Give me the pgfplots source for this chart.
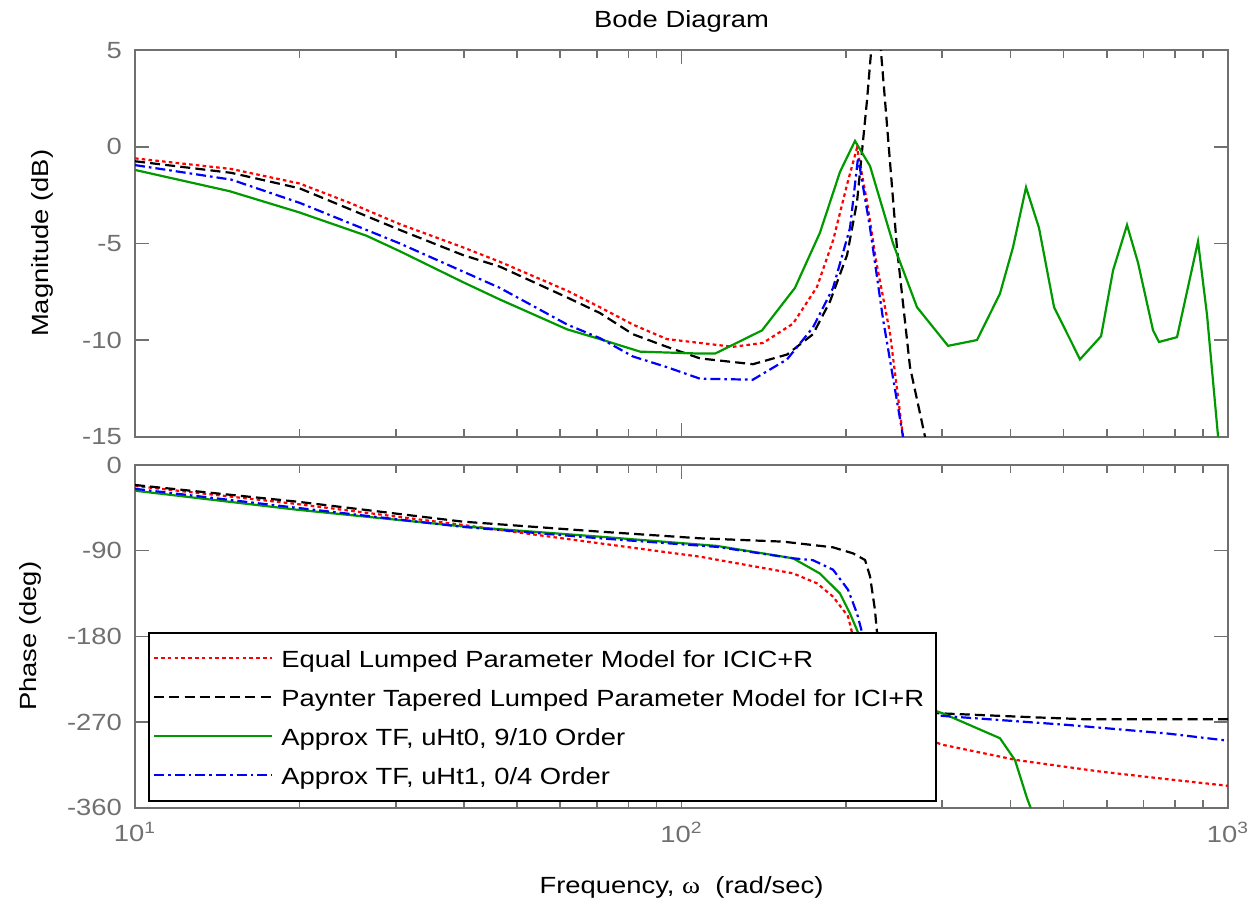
\documentclass[border=0pt]{standalone}
\usepackage{pgfplots}
\pgfplotsset{compat=1.18}
\usepackage{fontspec}
\setmainfont{Liberation Sans}[FakeStretch=1.17]
\newfontfamily\symfont{Liberation Serif}[FakeStretch=1.17]
\definecolor{axgray}{RGB}{112,112,112}
\definecolor{mgreen}{RGB}{0,153,0}
\pgfplotsset{
  bodeax/.style={
    scale only axis, width=546.5pt, xmin=10, xmax=1000,
    axis line style={axgray, line width=1pt},
    every tick/.style={axgray, line width=0.8pt},
    major tick length=7pt, minor tick length=4pt,
    tick label style={text=axgray, font=\fontsize{11.7}{14}\selectfont},
    label style={font=\fontsize{11.7}{14}\selectfont, text=black},
    title style={font=\fontsize{11.7}{14}\selectfont, text=black},
    xtick={10,100,1000},
    yticklabel style={xshift=-2.5pt},
    every axis plot/.append style={line width=1.1pt},
  },
  redst/.style={red, dash pattern=on 1.8pt off 1.6pt},
  blkst/.style={black, dash pattern=on 5pt off 2.6pt},
  grnst/.style={mgreen, solid},
  blust/.style={blue, dash pattern=on 5pt off 2pt on 1.3pt off 2pt},
}
\begin{document}
\fontsize{11.7}{14}\selectfont
\begin{tikzpicture}
\path[use as bounding box] (0pt,0pt) rectangle (628pt,455.5pt);
% ---------------- Magnitude ----------------
\begin{semilogxaxis}[bodeax,
  at={(67.5pt,237.15pt)}, anchor=south west, height=193.3pt,
  ymin=-15, ymax=5,
  ytick={-15,-10,-5,0,5}, yticklabels={-15,-10,-5,0,5},
  xticklabels={},
  title={Bode Diagram},
  title style={at={(axis description cs:0.5,1)}, anchor=south, yshift=-1pt},
  ylabel={Magnitude (dB)},
  ylabel style={at={(axis description cs:-0.0845,0.5)}, anchor=center},
]
\addplot[redst] coordinates {(10,-0.6)(15,-1.15)(20,-1.9)(24.7,-2.9)(30.5,-4.0)(39.8,-5.2)(46.5,-5.95)(61.8,-7.45)(70.9,-8.3)(81.5,-9.2)(94,-9.95)(108.1,-10.15)(124.2,-10.35)(141,-10.15)(160,-9.15)(177,-7.25)(189.4,-4.85)(200.9,-1.95)(209.5,-0.05)(218.5,-2.85)(227,-5.9)(240.7,-9.65)(254.3,-15)(262,-18)};
\addplot[blkst] coordinates {(10,-0.75)(15,-1.35)(20,-2.15)(30.5,-4.3)(39.8,-5.6)(46.5,-6.2)(61.8,-7.8)(70.9,-8.6)(81.5,-9.7)(94,-10.35)(108.1,-10.95)(135.1,-11.25)(156,-10.75)(174,-9.7)(187,-8.0)(200.9,-5.6)(209.5,-2.85)(218.5,2.4)(227,8)(235.7,2.4)(248,-5.3)(261.9,-11.4)(279,-15)(290,-18)};
\addplot[grnst] coordinates {(10,-1.2)(14.9,-2.3)(20,-3.4)(26.5,-4.6)(30.5,-5.4)(39.8,-7.0)(46.5,-7.9)(61.8,-9.45)(70.9,-9.95)(84,-10.6)(108.1,-10.7)(115.2,-10.7)(140.4,-9.5)(161.3,-7.3)(179.2,-4.45)(195,-1.3)(207.7,0.3)(221.3,-1.0)(243.8,-5.0)(269.7,-8.3)(307.4,-10.3)(347.3,-10.0)(382.6,-7.6)(404.2,-5.2)(427,-2.1)(451,-4.2)(480.5,-8.3)(536,-11.0)(585.8,-9.8)(616.1,-6.4)(653.5,-4.05)(684.5,-6.0)(729.2,-9.5)(747.8,-10.1)(806.7,-9.85)(881.3,-4.9)(915.4,-8.7)(959,-15)(980,-18)};
\addplot[blust] coordinates {(10,-0.95)(15,-1.7)(20,-2.9)(30.5,-5.0)(39.8,-6.45)(46.5,-7.3)(61.8,-9.2)(70.9,-9.9)(81.5,-10.85)(94,-11.4)(108.1,-12.0)(135.1,-12.05)(156,-11.0)(174,-9.35)(189.4,-7.3)(203.4,-4.2)(210.4,-0.55)(221.3,-4.2)(233.7,-8.9)(254.3,-15)(265,-18)};
\end{semilogxaxis}
% ---------------- Phase ----------------
\begin{semilogxaxis}[bodeax,
  at={(67.5pt,51.65pt)}, anchor=south west, height=171.35pt,
  ymin=-360, ymax=0,
  ytick={-360,-270,-180,-90,0}, yticklabels={-360,-270,-180,-90,0},
  xticklabels={10\textsuperscript{1},10\textsuperscript{2},10\textsuperscript{3}},
  xticklabel style={yshift=-3pt},
  ylabel={Phase (deg)},
  ylabel style={at={(axis description cs:-0.0955,0.5)}, anchor=center},
  xlabel={Frequency, {\symfont ω}\ \ (rad/sec)},
  xlabel style={at={(axis description cs:0.5,-0.232)}, anchor=center},
  legend cell align=left,
  legend image code/.code={\draw[#1] (0pt,0pt) -- (43pt,0pt); \path (0pt,0pt) -- (59pt,0pt);},
  legend style={at={(rel axis cs:0.012,0.017)}, anchor=south west,
    draw=black, line width=1pt, fill=white, inner xsep=2pt, inner ysep=3pt,
    font=\fontsize{11.7}{14}\selectfont, text=black, row sep=0pt,
    nodes={inner sep=4pt, text height=10.5pt, text depth=1pt}},
]
\addplot[redst] coordinates {(10,-22)(19.8,-41)(39.8,-63)(70.9,-82.3)(108.1,-96.3)(160,-113.8)(177,-124.3)(189.4,-138.3)(201.7,-159)(205.1,-176)(215,-215)(225,-250)(240,-275)(301,-294)(411,-310)(583,-322)(773,-330)(1000,-337)};
\addlegendentry{Equal Lumped Parameter Model for ICIC+R}
\addplot[blkst] coordinates {(10,-21)(19.8,-38.5)(39.8,-59.5)(70.9,-70)(108.1,-77)(153.4,-80.5)(189.4,-86.5)(206,-92.8)(216.7,-99.8)(221.3,-117)(225.9,-152)(227.9,-176)(232,-240)(245,-258)(301,-261)(440,-265)(543,-267)(1000,-267)};
\addlegendentry{Paynter Tapered Lumped Parameter Model for ICI+R}
\addplot[grnst] coordinates {(10,-27)(19.8,-47)(39.8,-64.5)(70.9,-75.3)(116.1,-85)(160,-98)(179.2,-114)(195,-135)(203.4,-156)(210.4,-176)(225,-215)(250,-245)(301,-261)(382.6,-287)(407.6,-310)(428.8,-350)(437.9,-364)(445,-375)};
\addlegendentry{Approx TF, uHt0, 9/10 Order}
\addplot[blust] coordinates {(10,-25)(19.8,-45)(39.8,-65)(70.9,-77)(116.1,-86)(160,-98)(174,-100)(189.4,-110)(201.7,-131)(209.5,-156)(214,-176)(225,-220)(240,-255)(301,-263.6)(507.6,-273)(773,-282)(1000,-289.6)};
\addlegendentry{Approx TF, uHt1, 0/4 Order}
\end{semilogxaxis}
\end{tikzpicture}
\end{document}
